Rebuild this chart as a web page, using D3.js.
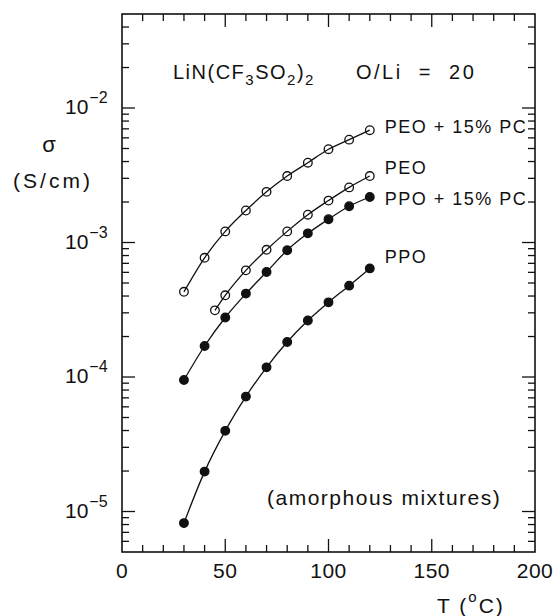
<!DOCTYPE html>
<html>
<head>
<meta charset="utf-8">
<script src="https://cdn.jsdelivr.net/npm/d3@7"></script>
<style>
  body { margin: 0; background: #fff; }
  text { font-family: "Liberation Sans", Arial, sans-serif; fill: #111; }
</style>
</head>
<body>
<script>
// temperatures (°C)
const temps = [30, 40, 50, 60, 70, 80, 90, 100, 110, 120];
const peoTemps = [45, 50, 60, 70, 80, 90, 100, 110, 120];

// conductivity (S/cm)
const peoPcValues = [4.3e-4, 7.7e-4, 1.21e-3, 1.73e-3, 2.38e-3, 3.12e-3, 3.92e-3, 4.94e-3, 5.82e-3, 6.84e-3];
const peoValues = [3.13e-4, 4.05e-4, 6.21e-4, 8.83e-4, 1.21e-3, 1.61e-3, 2.05e-3, 2.57e-3, 3.12e-3];
const ppoPcValues = [9.5e-5, 1.70e-4, 2.77e-4, 4.17e-4, 6.03e-4, 8.77e-4, 1.17e-3, 1.49e-3, 1.86e-3, 2.18e-3];
const ppoValues = [8.2e-6, 1.98e-5, 3.98e-5, 7.15e-5, 1.18e-4, 1.82e-4, 2.63e-4, 3.59e-4, 4.78e-4, 6.42e-4];

const seriesNames = ["PEO + 15% PC", "PEO", "PPO + 15% PC", "PPO"];
const xTickLabels = [0, 50, 100, 150, 200];
const yDecades = [-5, -4, -3, -2];

const width = 554, height = 616;
const margin = {top: 14, right: 19, bottom: 64, left: 122};

const x = d3.scaleLinear().domain([0, 200]).range([margin.left, width - margin.right]);
const y = d3.scaleLog().domain([5e-6, 5e-2]).range([height - margin.bottom, margin.top]);

const series = [
  {name: seriesNames[0], t: temps, v: peoPcValues, filled: false, dy: 3},
  {name: seriesNames[1], t: peoTemps, v: peoValues, filled: false, dy: -2},
  {name: seriesNames[2], t: temps, v: ppoPcValues, filled: true, dy: 8},
  {name: seriesNames[3], t: temps, v: ppoValues, filled: true, dy: -5}
];

const svg = d3.select("body").append("svg")
  .attr("width", width)
  .attr("height", height)
  .attr("viewBox", [0, 0, width, height]);

const x0 = margin.left, x1 = width - margin.right;
const y0 = height - margin.bottom, y1 = margin.top;

// minor / major ticks, all pointing inward
const minorX = d3.range(10, 200, 10);
const minorY = [];
for (let e = -6; e <= -2; e++) {
  for (let m = 1; m <= 9; m++) {
    const v = m * Math.pow(10, e);
    if (v > 5e-6 && v < 5e-2) minorY.push({v, major: m === 1});
  }
}

const ticks = svg.append("g").attr("stroke", "#111").attr("stroke-width", 1.3);
minorX.forEach(t => {
  const len = t % 50 === 0 ? 13 : 7;
  ticks.append("line").attr("x1", x(t)).attr("x2", x(t)).attr("y1", y0).attr("y2", y0 - len);
  ticks.append("line").attr("x1", x(t)).attr("x2", x(t)).attr("y1", y1).attr("y2", y1 + len);
});
minorY.forEach(d => {
  const len = d.major ? 13 : 7;
  ticks.append("line").attr("x1", x0).attr("x2", x0 + len).attr("y1", y(d.v)).attr("y2", y(d.v));
  ticks.append("line").attr("x1", x1).attr("x2", x1 - len).attr("y1", y(d.v)).attr("y2", y(d.v));
});

svg.append("rect")
  .attr("x", x0).attr("y", y1)
  .attr("width", x1 - x0).attr("height", y0 - y1)
  .attr("fill", "none").attr("stroke", "#111").attr("stroke-width", 1.6);

// x tick labels
svg.append("g").selectAll("text")
  .data(xTickLabels)
  .join("text")
  .attr("x", d => x(d))
  .attr("y", y0 + 26)
  .attr("text-anchor", "middle")
  .attr("font-size", 21)
  .attr("letter-spacing", 0.5)
  .text(d => d);

// y tick labels 10^n
const yl = svg.append("g").selectAll("text")
  .data(yDecades)
  .join("text")
  .attr("x", 65)
  .attr("y", d => y(Math.pow(10, d)) + 6)
  .attr("font-size", 21);
yl.append("tspan").text("10");
yl.append("tspan").attr("dx", 1).attr("dy", -11).attr("font-size", 16).text(d => "\u2212" + (-d));

// axis titles
svg.append("text").attr("x", 49).attr("y", 152).attr("text-anchor", "middle")
  .attr("font-size", 22).text("σ");
svg.append("text").attr("x", 53).attr("y", 188).attr("text-anchor", "middle")
  .attr("font-size", 21).attr("letter-spacing", 3).text("(S/cm)");

const xt = svg.append("text").attr("x", 437).attr("y", 613)
  .attr("font-size", 21).attr("letter-spacing", 2);
xt.append("tspan").text("T (");
xt.append("tspan").attr("dy", -11).attr("font-size", 15).text("o");
xt.append("tspan").attr("dy", 11).text("C)");

// curves and points
const line = d3.line().curve(d3.curveMonotoneX)
  .x(d => x(d[0])).y(d => y(d[1]));

series.forEach(s => {
  const pts = s.t.map((t, i) => [t, s.v[i]]);
  svg.append("path").attr("d", line(pts))
    .attr("fill", "none").attr("stroke", "#111").attr("stroke-width", 1.3);
  svg.append("g").selectAll("circle")
    .data(pts)
    .join("circle")
    .attr("cx", d => x(d[0]))
    .attr("cy", d => y(d[1]))
    .attr("r", 4.3)
    .attr("fill", s.filled ? "#111" : "none")
    .attr("stroke", "#111")
    .attr("stroke-width", 1.3);
  const last = pts[pts.length - 1];
  svg.append("text")
    .attr("x", x(last[0]) + 15)
    .attr("y", y(last[1]) + s.dy)
    .attr("font-size", 18)
    .attr("letter-spacing", 1.5)
    .text(s.name);
});

// annotations
const title = svg.append("text").attr("x", 173).attr("y", 79)
  .attr("font-size", 20).attr("letter-spacing", 1.5);
title.append("tspan").text("LiN(CF");
title.append("tspan").attr("dy", 6).attr("font-size", 15).text("3");
title.append("tspan").attr("dy", -6).text("SO");
title.append("tspan").attr("dy", 6).attr("font-size", 15).text("2");
title.append("tspan").attr("dy", -6).text(")");
title.append("tspan").attr("dy", 6).attr("font-size", 15).text("2");

svg.append("text").attr("x", 356).attr("y", 79)
  .attr("font-size", 20).attr("letter-spacing", 2.5).attr("xml:space", "preserve")
  .text("O/Li  =  20");

svg.append("text").attr("x", 267).attr("y", 505)
  .attr("font-size", 21).attr("letter-spacing", 1.5)
  .text("(amorphous mixtures)");
</script>
</body>
</html>
